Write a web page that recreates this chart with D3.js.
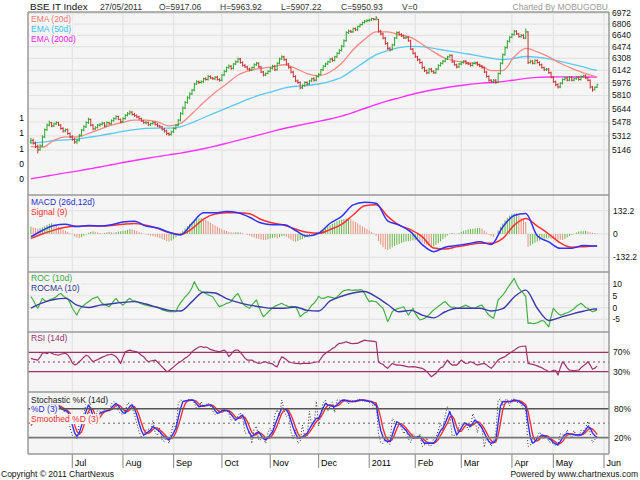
<!DOCTYPE html>
<html>
<head>
<meta charset="utf-8">
<script src="https://cdn.jsdelivr.net/npm/d3@7"></script>
<style>
  body { margin: 0; background: #fff; }
  svg text { font-family: Arial, "Liberation Sans", sans-serif; }
</style>
</head>
<body>
<div id="chart"></div>
<script>
// ---- data (7 Jun 2010 - 27 May 2011) ----
var holidays = ["2010-09-10", "2010-11-17", "2010-12-17", "2011-01-26", "2011-03-02",
                "2011-04-12", "2011-04-14", "2011-04-22"];

var open = [5240,5260,5225,5190,5150,5195,5300,5385,5440,5470,
 5430,5455,5470,5440,5400,5370,5385,5340,5300,5270,
 5240,5260,5320,5380,5420,5470,5510,5440,5395,5410,
 5440,5450,5465,5430,5470,5455,5495,5520,5545,5510,
 5480,5520,5560,5580,5600,5570,5555,5540,5520,5490,
 5470,5470,5445,5460,5470,5450,5430,5420,5390,5370,
 5340,5330,5360,5400,5440,5500,5580,5650,5720,5780,
 5830,5880,5960,5990,5980,5990,6030,6020,6060,6040,
 6030,6050,6020,6010,6080,6130,6180,6200,6170,6230,
 6260,6300,6250,6210,6190,6160,6150,6180,6220,6240,
 6190,6120,6080,6100,6130,6170,6200,6150,6240,6300,
 6330,6290,6230,6180,6120,6060,6000,5980,5910,5940,
 5980,5960,6000,6030,6010,6060,6090,6150,6200,6230,
 6260,6300,6280,6330,6380,6420,6480,6560,6680,6700,
 6690,6740,6720,6770,6800,6830,6850,6860,6870,6890,
 6880,6880,6700,6660,6600,6520,6450,6430,6500,6600,
 6680,6650,6630,6600,6610,6560,6440,6380,6330,6290,
 6250,6180,6140,6110,6160,6130,6110,6160,6210,6240,
 6270,6300,6330,6350,6260,6220,6190,6230,6250,6270,
 6240,6230,6210,6240,6250,6220,6200,6180,6120,6060,
 6010,5990,6010,5980,6100,6240,6360,6460,6550,6610,
 6650,6700,6660,6620,6640,6600,6690,6250,6270,6240,
 6280,6250,6220,6180,6150,6160,6110,6050,5990,5950,
 5920,5970,6020,6040,6010,6050,6010,6030,6050,6020,
 6060,6070,6040,6010,5920,5890,5917.06];
var high = [5290,5280,5245,5210,5215,5320,5400,5460,5495,5480,
 5470,5490,5480,5450,5415,5400,5400,5355,5320,5290,
 5275,5335,5395,5440,5485,5530,5520,5455,5425,5455,
 5465,5480,5475,5485,5480,5510,5535,5560,5555,5520,
 5535,5575,5600,5620,5610,5590,5570,5555,5530,5505,
 5490,5485,5470,5490,5485,5465,5445,5430,5405,5385,
 5355,5375,5415,5455,5515,5600,5670,5740,5800,5850,
 5895,5975,6010,6005,6010,6045,6050,6080,6075,6055,
 6065,6070,6035,6095,6150,6195,6225,6215,6245,6280,
 6320,6315,6265,6230,6205,6180,6195,6240,6260,6255,
 6205,6135,6115,6145,6190,6220,6215,6255,6320,6350,
 6345,6305,6245,6195,6135,6075,6020,5995,5955,5995,
 5995,6015,6045,6050,6075,6105,6165,6215,6250,6275,
 6315,6320,6345,6395,6440,6500,6580,6700,6725,6720,
 6755,6755,6785,6815,6845,6870,6880,6890,6905,6900,
 6930,6885,6720,6680,6615,6540,6470,6515,6615,6700,
 6700,6670,6650,6630,6625,6575,6455,6395,6345,6305,
 6265,6195,6155,6175,6175,6145,6175,6225,6255,6285,
 6315,6345,6370,6365,6275,6235,6245,6265,6285,6285,
 6255,6245,6255,6265,6265,6235,6215,6195,6135,6075,
 6025,6025,6025,6115,6255,6380,6480,6570,6630,6670,
 6720,6715,6675,6660,6655,6740,6700,6290,6285,6295,
 6295,6265,6235,6195,6175,6175,6125,6065,6005,5970,
 5985,6035,6060,6055,6065,6065,6045,6065,6065,6075,
 6085,6085,6055,6020,5935,5930,5963.92];
var low = [5220,5210,5170,5110,5140,5180,5285,5370,5425,5415,
 5415,5440,5430,5385,5350,5355,5325,5285,5255,5220,
 5215,5245,5305,5365,5405,5455,5425,5375,5380,5400,
 5420,5435,5415,5420,5440,5445,5480,5505,5500,5465,
 5465,5505,5545,5565,5555,5540,5525,5505,5480,5455,
 5450,5430,5430,5445,5435,5415,5405,5375,5350,5320,
 5310,5315,5345,5385,5425,5485,5565,5635,5705,5760,
 5815,5865,5945,5960,5965,5975,6005,6005,6025,6015,
 6010,6005,5990,5995,6065,6115,6165,6150,6155,6215,
 6245,6235,6195,6175,6145,6130,6135,6165,6205,6175,
 6105,6060,6065,6090,6115,6155,6135,6140,6225,6285,
 6275,6215,6165,6100,6045,5985,5960,5890,5895,5925,
 5940,5945,5985,5990,5995,6045,6075,6135,6185,6215,
 6245,6260,6265,6315,6365,6405,6465,6545,6660,6675,
 6675,6705,6705,6755,6785,6815,6835,6845,6855,6860,
 6860,6680,6640,6580,6500,6430,6405,6420,6485,6585,
 6635,6615,6585,6585,6545,6425,6365,6315,6270,6230,
 6160,6120,6090,6095,6115,6095,6095,6145,6195,6225,
 6255,6285,6315,6245,6205,6170,6175,6215,6235,6225,
 6215,6195,6195,6225,6205,6185,6165,6105,6045,5990,
 5970,5970,5960,5970,6085,6225,6345,6445,6535,6595,
 6635,6645,6605,6605,6585,6585,6230,6235,6225,6225,
 6235,6205,6165,6135,6135,6095,6035,5975,5930,5900,
 5905,5955,6005,5995,5995,5995,5995,6015,6005,6005,
 6045,6025,5995,5900,5860,5875,5907.22];
var close = [5260,5225,5190,5150,5195,5300,5385,5440,5470,5430,
 5455,5470,5440,5400,5370,5385,5340,5300,5270,5240,
 5260,5320,5380,5420,5470,5510,5440,5395,5410,5440,
 5450,5465,5430,5470,5455,5495,5520,5545,5510,5480,
 5520,5560,5580,5600,5570,5555,5540,5520,5490,5470,
 5470,5445,5460,5470,5450,5430,5420,5390,5370,5340,
 5330,5360,5400,5440,5500,5580,5650,5720,5780,5830,
 5880,5960,5990,5980,5990,6030,6020,6060,6040,6030,
 6050,6020,6010,6080,6130,6180,6200,6170,6230,6260,
 6300,6250,6210,6190,6160,6150,6180,6220,6240,6190,
 6120,6080,6100,6130,6170,6200,6150,6240,6300,6330,
 6290,6230,6180,6120,6060,6000,5980,5910,5940,5980,
 5960,6000,6030,6010,6060,6090,6150,6200,6230,6260,
 6300,6280,6330,6380,6420,6480,6560,6680,6700,6690,
 6740,6720,6770,6800,6830,6850,6860,6870,6890,6880,
 6900,6700,6660,6600,6520,6450,6430,6500,6600,6680,
 6650,6630,6600,6610,6560,6440,6380,6330,6290,6250,
 6180,6140,6110,6160,6130,6110,6160,6210,6240,6270,
 6300,6330,6350,6260,6220,6190,6230,6250,6270,6240,
 6230,6210,6240,6250,6220,6200,6180,6120,6060,6010,
 5990,6010,5980,6100,6240,6360,6460,6550,6610,6650,
 6700,6660,6620,6640,6600,6690,6250,6270,6240,6280,
 6250,6220,6180,6150,6160,6110,6050,5990,5950,5920,
 5970,6020,6040,6010,6050,6010,6030,6050,6020,6060,
 6070,6040,6010,5920,5880,5915,5950.93];

// moving averages and other smooth lines, read every 5th session (plus the last one)
var ema20 = [5190,5180,5260,5300,5300,5340,5390,5440,5475,5500,5500,5480,5430,5460,5580,5720,
 5850,5960,6080,6140,6170,6190,6220,6170,6100,6070,6120,6240,6430,6580,6690,6690,6650,6610,
 6510,6400,6310,6270,6250,6220,6140,6140,6330,6450,6400,6330,6240,6170,6110,6060,6050];
var ema50 = [5230,5240,5255,5265,5275,5295,5315,5340,5365,5385,5400,5405,5405,5420,5470,5530,
 5590,5650,5710,5770,5820,5860,5905,5930,5940,5960,5995,6050,6150,6260,6360,6420,6460,6480,
 6475,6450,6420,6395,6370,6340,6310,6290,6310,6335,6325,6300,6265,6228,6190,6150,6145];
var ema200 = [4830,4850,4872,4893,4913,4935,4957,4982,5007,5030,5052,5073,5093,5113,5137,5163,
 5192,5225,5260,5295,5330,5365,5400,5430,5458,5485,5515,5550,5595,5645,5695,5740,5780,5820,
 5855,5885,5910,5933,5953,5968,5980,5992,6012,6035,6048,6053,6055,6054,6053,6052,6052];
var macd = [-15,20,48,55,42,48,45,52,68,72,45,34,10,-5,60,120,120,128,120,95,62,52,52,20,-12,4,
 61,100,165,180,175,75,51,12,-60,-100,-75,-65,-55,-44,-60,40,105,117,-10,-45,-81,-81,-65,-68,-68];
var signal = [-25,0,22,38,44,45,45,48,55,60,50,32,8,-3,30,85,113,120,121,115,82,62,50,28,10,4,
 25,55,108,160,166,100,50,25,-15,-80,-85,-73,-62,-53,-53,-25,50,88,45,0,-50,-75,-72,-68,-68];
var rocma = [-0.3,2,3.4,3.9,1,0,1,1.6,2.2,2.5,1.5,0,-1.2,-1.5,2.5,6.5,6.2,3.8,2.2,1,0.2,-0.3,
 -0.3,0.2,-1.2,-1.5,2.8,4.8,6.2,6.8,4.5,1.3,-1.8,-1.2,-3.2,-4.4,-1.8,-0.3,-0.3,-0.3,-1.5,-0.5,
 4.5,7.4,-0.3,-5.5,-4.2,-2.8,-1.6,-0.6,-0.6];

// daily indicator values
var hist = [42,38,34,30,33,38,45,52,58,61, 55,48,40,32,25,18,12,5,-3,-12,
 -20,-23,-18,-10,-2,5,12,15,12,9, 6,4,6,9,12,10,8,11,14,16,
 18,20,24,28,26,22,18,12,6,2, -3,-6,-9,-12,-15,-18,-22,-28,-34,-40,
 -44,-38,-30,-20,-8,5,18,32,45,58, 68,78,85,89,91,86,80,72,64,56,
 48,41,34,28,22,17,13,10,8,10, 10,8,5,0,-5,-10,-15,-20,-25,-28,
 -31,-33,-34,-30,-26,-22,-20,-24,-18,-12, -10,-16,-24,-32,-40,-44,-40,-34,-28,-22,
 -16,-10,-4,2,8,14,20,28,36,44, 50,58,65,72,78,82,86,88,89,84,
 76,68,60,52,44,36,28,20,12,4, -10,-40,-60,-75,-85,-91,-84,-76,-68,-62,
 -56,-50,-46,-42,-40,-38,-36,-35,-34,-40, -48,-56,-64,-70,-74,-70,-62,-52,-42,-30,
 -20,-8,2,6,4,2,6,12,18,22, 26,28,30,32,33,34,30,20,8,-4,
 -12,-15,0,20,40,60,78,92,104,112, 116,117,105,92,80,68,-72,-65,-58,-50,
 -42,-36,-30,-26,-24,-22,-26,-28,-30,-32, -33,-34,-28,-20,-12,-5,2,8,14,16,
 16,17,14,10,7,5,4];
var roc = [4.6,3.2,1.2,-0.3,1.8,3.9,3.0,2.6,3.2,3.6, 4.0,4.6,5.5,6.0,5.0,4.2,3.9,2.0,-0.3,-1.8,
 -3.2,-1.0,0.2,1.0,1.8,2.5,3.2,3.9,4.2,4.6, 3.0,1.8,1.2,0.8,0.3,1.5,2.8,3.9,2.5,1.8,
 1.0,2.0,3.2,3.9,3.0,2.8,2.5,2.0,1.6,1.2, 1.0,0.8,0.6,0.4,0.3,0.2,-0.2,-1.0,-1.2,-1.5,
 -1.8,-1.6,-1.8,-1.8,0.5,2.0,3.2,4.5,5.5,6.7, 8.5,11.0,9.0,7.4,6.8,6.4,6.0,5.4,5.0,4.6,
 3.0,1.5,0.3,0.8,1.2,1.8,2.0,2.5,4.0,5.2, 6.0,3.8,1.8,0.8,0.2,-0.3,1.0,2.2,3.2,0.5,
 -2.0,-3.9,-3.0,-2.0,-1.0,-0.2,0.5,1.0,1.4,1.8, 1.2,0.8,0.3,0.5,0.4,0.3,-1.5,-3.9,-3.0,-2.2,
 -1.8,-0.5,1.0,1.8,3.0,4.8,4.0,3.9,4.2,4.6, 4.4,4.2,3.9,4.5,5.5,6.5,7.2,7.4,7.6,7.4,
 7.3,7.5,7.4,7.6,7.4,6.0,4.0,2.5,2.8,2.6, 2.5,1.5,0.5,-0.3,-3.0,-6.0,-4.0,-1.8,-1.0,-0.6,
 -0.3,0.0,0.3,-1.5,-3.2,-1.8,-0.3,-2.5,-4.0,-5.3, -5.0,-4.6,-4.0,-3.0,-2.0,-1.0,-0.3,0.5,1.2,2.0,
 2.5,1.5,0.5,0.0,0.2,-0.2,-0.3,0.2,0.6,1.0, 0.5,0.0,-0.2,-0.3,0.3,0.8,1.0,-0.5,-2.0,-3.2,
 -4.0,-4.6,-1.0,3.2,4.2,5.3,6.5,8.2,9.5,11.0, 12.4,10.0,8.2,7.0,6.0,4.6,-6.7,-6.5,-6.9,-6.7,
 -6.5,-6.0,-5.5,-5.8,-7.0,-8.2,-4.0,-0.3,-1.5,-2.5, -3.2,-3.0,-2.5,-2.2,-1.8,-1.2,-0.5,0.5,1.2,1.8,
 1.0,0.0,-0.3,-1.2,-1.8,-1.4,-1.0];
var rsi = [57.5,56,55,54,60,68,69,67,70,68, 66,65,64,66,67,68,65,58,48,44,
 46,50.5,55,60,64,62,56,50.5,53,55, 57.5,60,62,64,65,66,64,61,55,47,
 60,71,73,74.6,73,72,71,68,64,61, 55,50.5,52,53,54,50,45,40,35,30,
 32,36,40,44,48,50.5,54,58,61,65, 71,75,78,81,82,80,81,79,76,74.6,
 73,72,71,73,74.6,70,61,66,72,74.6, 74.6,70,64,58,54,54,54,51,49,47,
 48,50,50.5,48,47,46,42,40,52,61, 58,55,50.5,49,48,47,47,46,47,47,
 47,47,48,49,50,50.5,57,64,68,71, 74,78,80,85,88.5,89,90,91.8,90,88.5,
 88,88.5,88.5,91,93,95,94,93.5,93,92.5, 91.8,50.5,47,45,40,37,42,47,45,43.7,
 43.7,43,42,41,40,40,40.5,40,39,38, 37,34,30,25,19.6,23,26.6,33,38,40,
 47,54,48,43.7,44,43.7,48,54,50,47, 48,50.5,49,46,43.7,45,46,47,44,40,
 37,42,48,54,57,59,61,65,68,71, 74,78,81,82,82.5,83,47,46,45,43.7,
 42,40,38,35,33,30,31,33,33,23, 38,50.5,45,38,33,33,32,33,33,38,
 42,46,50.5,44,35,37,41.6];
var stochK = [55,70,80,85,88,92,90,92,88,87, 90,86,80,80,75,74,72,40,25,22,
 18,50,65,68,92,98,50,48,62,76, 75,68,80,80,75,90,95,88,75,70,
 68,74,92,90,82,68,50,32,22,24, 36,38,35,56,30,25,40,15,12,25,
 8,30,52,38,90,98,96,94,99,98, 97,92,80,80,95,84,88,92,85,75,
 68,70,78,80,74,77,70,56,60,54, 66,72,62,30,28,32,8,38,44,15,
 16,22,8,30,40,28,68,78,65,98, 78,64,68,32,18,36,8,12,46,20,
 20,75,44,42,95,44,70,92,98,75, 86,94,72,98,98,96,100,95,90,99,
 96,94,100,99,96,96,97,92,95,78, 95,28,10,8,20,9,6,60,54,45,
 50,40,28,38,18,10,28,22,16,28, 2,4,20,3,4,18,22,34,50,34,
 66,85,70,24,25,28,44,48,52,50, 36,44,70,56,30,52,38,0,22,14,
 2,14,30,98,100,86,98,100,86,100, 100,92,94,90,80,82,2,4,20,12,
 22,32,24,18,24,12,10,8,3,5, 28,26,24,36,26,20,35,22,20,36,
 34,40,54,28,10,16,28];
var stochD = [50,60,70,78,84,88,90,91,90,89, 88,88,85,82,78,76,74,62,46,30,
 22,30,45,60,75,88,80,65,53,62, 70.6,73,75,76,77.4,82,87,91,86,78,
 72,70.6,78,85,88,80,67,50,35,25.7, 28,32.5,36,43,40,36,32.5,26,22,18,
 15.3,22,30,39.5,60,80,94.6,96,97,98, 98,96,90,84,85,86,87,88,88,84,
 76,70.6,72,76,77.4,76,74,68,62,56.7, 60,64,67,55,40,30,22,26,30,32.5,
 25,18,15.3,20,26,32.5,45,58,70,81, 80,77.4,70,55,40,28,20,18.8,22,26,
 29,38,46,54,60,60,70,82,91,88, 86,85,84,88,93,97,98,97,95,94.6,
 95,96,97,98,98,97,96,95,94.6,90, 88,60,35,22,14,12,11.8,25,40,53,
 50,45,39.5,35,28,22,18.8,20,22,22, 15,8.5,8.5,9,8.5,8.5,15,25,35,39.5,
 50,62,74,60,40,25.7,32,40,48,50, 46,43,50,56.7,52,46,40,30,20,12,
 8.5,10,15.3,50,85,94.6,95,94.6,94.6,96, 98,97,95,92,88,84,50,20,8.5,12,
 18,22,25.7,24,22,18,15.3,10,7,5, 12,20,26,29,28,27,26,25.7,25.7,25.7,
 30,36,43,40,30,24,21];
var stochSD = [45,52,60,69,77,83,87,90,90,90, 89,88,87,85,82,79,76,71,61,46,
 33,27,32,45,60,74,81,78,66,60, 62,69,73,75,76,78,82,87,88,85,
 79,74,74,78,84,84,78,66,51,37, 30,29,32,37,40,40,36,32,27,22,
 18,18,22,31,44,60,78,90,96,97, 98,97,95,90,86,85,86,87,88,87,
 83,77,73,73,75,77,76,73,68,62, 60,60,64,62,54,42,31,26,26,30,
 29,25,19,18,20,26,35,45,58,70, 77,80,76,67,55,41,29,22,20,22,
 26,31,38,46,53,58,63,71,81,87, 88,86,85,86,88,93,96,97,97,95,
 95,95,96,97,98,98,97,96,95,93, 91,79,61,39,24,16,13,16,26,39,
 48,49,45,40,34,28,23,20,20,21, 20,15,11,9,9,9,11,16,25,33,
 42,50,62,65,58,42,33,33,40,46, 48,46,46,50,53,51,46,39,30,21,
 14,10,11,25,50,78,91,95,95,95, 96,97,97,95,92,88,74,51,26,14,
 13,17,22,24,24,22,18,14,11,7, 8,12,19,25,28,28,27,26,26,26,
 27,31,36,40,38,33,27];

// axis labels
var priceTicks = [6972, 6806, 6640, 6474, 6308, 6142, 5976, 5810, 5644, 5478, 5312, 5146];
var volTicks = [1.4, 1.2, 1.0, 0.8, 0.6];
var macdTicks = [132.2, 0, -132.2];
var rocTicks = [10, 5, 0, -5];
var rsiBands = [70, 30];
var stoBands = [80, 20];

var header = [
  {t: "27/05/2011", x: 100}, {t: "O=5917.06", x: 159}, {t: "H=5963.92", x: 220},
  {t: "L=5907.22", x: 281}, {t: "C=5950.93", x: 341}, {t: "V=0", x: 402}
];

// ---- layout ----
var W = 640, H = 480, L = 28, R = 609;
var P = { main: [12, 195], macd: [195, 272], roc: [272, 332], rsi: [332, 392], sto: [392, 454] };
var fs = 8.5;

var svg = d3.select("#chart").append("svg").attr("width", W).attr("height", H);
svg.append("rect").attr("width", W).attr("height", H).attr("fill", "#fff");

// trading calendar (weekdays less exchange holidays), extended to 1 Jun for the last tick
var days = [];
(function () {
  var d = new Date(Date.UTC(2010, 5, 7)), end = new Date(Date.UTC(2011, 5, 1));
  while (d <= end) {
    var wd = d.getUTCDay(), s = d.toISOString().slice(0, 10);
    if (wd > 0 && wd < 6 && holidays.indexOf(s) < 0) days.push(new Date(d));
    d.setUTCDate(d.getUTCDate() + 1);
  }
})();
var smoothIdx = d3.range(0, 246, 5).concat([246]);

var x = d3.scaleLinear().domain([0, days.length - 1]).range([30.9, 604]);
var y = d3.scaleLog().domain([4659, 6992]).range([195, 12]);
var yVol = d3.scaleLinear().domain([0.6, 1.4]).range([179, 118]);
var yM = d3.scaleLinear().domain([-132.2, 132.2]).range([257.3, 210.7]);
var yR = d3.scaleLinear().domain([-5, 10]).range([319.3, 284]);
var yS = d3.scaleLinear().domain([30, 70]).range([371.7, 352.3]);
var yK = d3.scaleLinear().domain([20, 80]).range([437.7, 408.7]);

var monthTicks = [];
days.forEach(function (d, i) {
  if (i > 0 && d.getUTCMonth() !== days[i - 1].getUTCMonth())
    monthTicks.push({ i: i, label: d.getUTCMonth() === 0 ? String(d.getUTCFullYear()) : d3.utcFormat("%b")(d) });
});

// panel backgrounds and grids
Object.keys(P).forEach(function (k) {
  svg.append("rect").attr("x", L).attr("y", P[k][0]).attr("width", R - L).attr("height", P[k][1] - P[k][0])
    .attr("fill", "#f5f5f5");
  svg.append("g").selectAll("line").data(monthTicks).join("line")
    .attr("x1", function (d) { return x(d.i); }).attr("x2", function (d) { return x(d.i); })
    .attr("y1", P[k][0]).attr("y2", P[k][1]).attr("stroke", "#e3e3e3").attr("stroke-width", 1.2);
});

function hgrid(vals, sc, color, width, dash) {
  svg.append("g").selectAll("line").data(vals).join("line")
    .attr("x1", L).attr("x2", R)
    .attr("y1", function (v) { return sc(v); }).attr("y2", function (v) { return sc(v); })
    .attr("stroke", color).attr("stroke-width", width).attr("stroke-dasharray", dash || null);
}
hgrid(priceTicks, y, "#e3e3e3", 1.2);
hgrid(macdTicks, yM, "#e3e3e3", 1.2);
hgrid(rocTicks, yR, "#e3e3e3", 1.2);

// ---- main panel ----
var gMain = svg.append("g");
function line(g, vals, idx, sc, color, w, dash) {
  g.append("path").datum(vals)
    .attr("fill", "none").attr("stroke", color).attr("stroke-width", w)
    .attr("stroke-dasharray", dash || null).attr("stroke-linejoin", "round")
    .attr("d", d3.line()
      .x(function (v, k) { return x(idx ? idx[k] : k); })
      .y(function (v) { return sc(v); })
      .curve(idx ? d3.curveMonotoneX : d3.curveLinear));
}
line(gMain, ema200, smoothIdx, y, "#ff33ff", 1.4);
line(gMain, ema50, smoothIdx, y, "#5cc8f5", 1.3);
line(gMain, ema20, smoothIdx, y, "#f58a84", 1.3);

gMain.append("g").selectAll("path").data(close).join("path")
  .attr("fill", "none").attr("stroke-width", 1)
  .attr("stroke", function (c, i) { return c >= open[i] ? "#2ea52e" : "#c83030"; })
  .attr("d", function (c, i) {
    var xi = x(i);
    return "M" + xi + "," + y(high[i]) + "V" + y(low[i]) +
      "M" + (xi - 1.2) + "," + y(open[i]) + "H" + xi +
      "M" + xi + "," + y(c) + "H" + (xi + 1.2);
  });

// ---- MACD ----
var gM = svg.append("g");
gM.selectAll("line").data(hist).join("line")
  .attr("x1", function (h, i) { return x(i); }).attr("x2", function (h, i) { return x(i); })
  .attr("y1", yM(0)).attr("y2", function (h) { return yM(h); })
  .attr("stroke-width", 1)
  .attr("stroke", function (h, i) { return i === 0 || h >= hist[i - 1] ? "#6ab84a" : "#e8907a"; });
line(gM, signal, smoothIdx, yM, "#ff3030", 1.5);
line(gM, macd, smoothIdx, yM, "#3030ff", 1.5);

// ---- ROC ----
var gR = svg.append("g");
line(gR, roc, null, yR, "#44b044", 1.2);
line(gR, rocma, smoothIdx, yR, "#3a3aaa", 1.4);

// ---- RSI ----
var gS = svg.append("g");
hgrid(rsiBands, yS, "#a0306a", 1.3);
hgrid([50], yS, "#a0306a", 1, "2,3");
line(gS, rsi, null, yS, "#a0306a", 1.2);

// ---- Stochastic ----
var gK = svg.append("g");
hgrid([80], yK, "#555", 1.6);
hgrid([20], yK, "#777", 1.8);
hgrid([50], yK, "#666", 1, "2,3");
line(gK, stochK, null, yK, "#333", 1, "1,2");
line(gK, stochSD, null, yK, "#ff3030", 1.4);
line(gK, stochD, null, yK, "#3030ff", 1.4);

// ---- frames ----
Object.keys(P).forEach(function (k) {
  svg.append("line").attr("x1", L).attr("x2", R).attr("y1", P[k][0]).attr("y2", P[k][0])
    .attr("stroke", "#999").attr("stroke-width", 1.5);
});
svg.append("line").attr("x1", L).attr("x2", R).attr("y1", 454).attr("y2", 454).attr("stroke", "#999").attr("stroke-width", 1.5);
[L, R].forEach(function (xx) {
  svg.append("line").attr("x1", xx).attr("x2", xx).attr("y1", 12).attr("y2", 454).attr("stroke", "#999").attr("stroke-width", 1.5);
});

// x axis month ticks
var gx = svg.append("g");
gx.selectAll("line").data(monthTicks).join("line")
  .attr("x1", function (d) { return x(d.i); }).attr("x2", function (d) { return x(d.i); })
  .attr("y1", 454).attr("y2", 468).attr("stroke", "#999").attr("stroke-width", 1.2);
gx.selectAll("text").data(monthTicks).join("text")
  .attr("x", function (d) { return x(d.i) + 2.5; }).attr("y", 465.5)
  .attr("font-size", fs + 0.5).text(function (d) { return d.label; });

// right-hand value labels
function rlabels(vals, sc, fmt, dx) {
  svg.append("g").selectAll("text").data(vals).join("text")
    .attr("x", dx).attr("y", function (v) { return sc(v) + 3; })
    .attr("font-size", fs).attr("fill", "#111").text(fmt);
}
rlabels(priceTicks, y, function (v) { return v; }, 612);
rlabels(macdTicks, yM, function (v) { return v; }, 613);
rlabels(rocTicks, yR, function (v) { return v; }, 612.5);
rlabels(rsiBands, yS, function (v) { return v + "%"; }, 613);
rlabels(stoBands, yK, function (v) { return v + "%"; }, 614);

// hidden volume axis on the left
svg.append("g").selectAll("text").data(volTicks).join("text")
  .attr("x", 24).attr("y", function (v) { return yVol(v) + 3; })
  .attr("text-anchor", "end").attr("font-size", fs).text(function (v) { return Math.floor(v); });

// legends, each label sits on a small panel-coloured box
function legend(items, y0) {
  var g = svg.append("g");
  items.forEach(function (d, k) {
    var t = g.append("text").attr("x", 31).attr("y", y0 + k * 9.8)
      .attr("font-size", fs).attr("fill", d[1]).text(d[0]);
    var b = t.node().getBBox();
    g.insert("rect", "text").attr("x", b.x - 1).attr("y", b.y).attr("width", b.width + 2)
      .attr("height", b.height).attr("fill", "#f5f5f5");
  });
}
legend([["EMA (20d)", "#f57a74"], ["EMA (50d)", "#3cc0f0"], ["EMA (200d)", "#ee22ee"]], 22.3);
legend([["MACD (26d,12d)", "#2b2bd0"], ["Signal (9)", "#ee3030"]], 205);
legend([["ROC (10d)", "#3aa83a"], ["ROCMA (10)", "#33338f"]], 281);
legend([["RSI (14d)", "#993366"]], 341);
legend([["Stochastic %K (14d)", "#222"], ["%D (3)", "#2b2bd0"], ["Smoothed %D (3)", "#ee3030"]], 402.5);

// header & footer
svg.append("text").attr("x", 30).attr("y", 9.5).attr("font-size", 9.8).attr("fill", "#111").text("BSE IT Index");
svg.append("g").selectAll("text").data(header).join("text")
  .attr("x", function (d) { return d.x; }).attr("y", 9.5).attr("font-size", fs).attr("fill", "#333")
  .text(function (d) { return d.t; });
svg.append("text").attr("x", 608).attr("y", 9.5).attr("text-anchor", "end").attr("font-size", fs)
  .attr("fill", "#999").text("Charted By MOBUGOBU");
svg.append("text").attr("x", 1).attr("y", 477).attr("font-size", fs).attr("fill", "#111").text("Copyright \u00a9 2011 ChartNexus");
svg.append("text").attr("x", 638).attr("y", 477).attr("text-anchor", "end").attr("font-size", fs)
  .attr("fill", "#111").text("Powered by www.chartnexus.com");
</script>
</body>
</html>
